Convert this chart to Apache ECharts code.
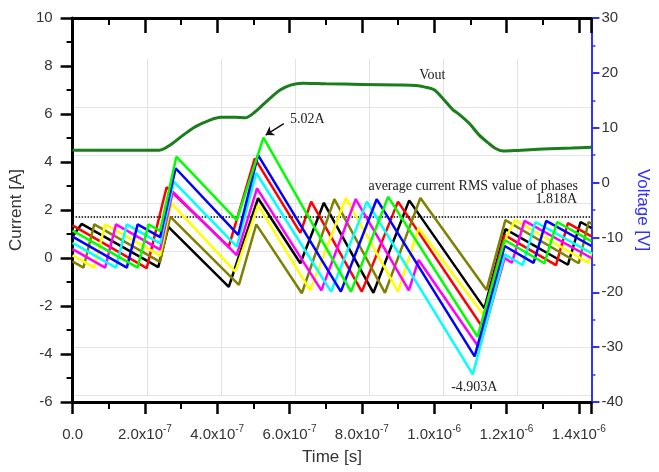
<!DOCTYPE html>
<html>
<head>
<meta charset="utf-8">
<script src="https://cdn.jsdelivr.net/npm/echarts@6/dist/echarts.min.js"></script>
<style>html,body{margin:0;padding:0;background:#fff}#c{width:659px;height:472px}</style>
</head>
<body>
<div id="c"></div>
<script>
// time values are in units of 1e-7 s
const xTickValues   = [0, 2, 4, 6, 8, 10, 12, 14];
const xTickMantissa = ['0.0', '2.0', '4.0', '6.0', '8.0', '1.0', '1.2', '1.4'];
const xTickExponent = ['', '-7', '-7', '-7', '-7', '-6', '-6', '-6'];

// phase currents [t (1e-7 s), I (A)]
const phaseRed     = [[0,1.36],[2.05,-0.42],[2.6,2.95],[4.32,0.47],[5.04,4.15],[6.3,1.05],[6.6,2.35],[8.0,-1.4],[9.0,2.35],[11.3,-2.8],[11.95,0.95],[13.37,-0.3],[13.7,1.45],[14.35,0.9]];
const phaseBlack   = [[0,0.9],[0.25,1.42],[2.37,-0.38],[2.65,1.3],[4.32,-1.2],[5.13,2.49],[6.3,-0.22],[6.95,2.3],[8.32,-1.45],[9.31,2.4],[11.39,-2.1],[11.97,1.2],[13.7,-0.28],[14.05,1.5],[14.35,1.25]];
const phaseOlive   = [[0,-0.14],[0.3,-0.4],[0.6,1.4],[2.42,-0.16],[2.7,1.72],[4.6,-1.12],[5.08,1.4],[6.34,-1.47],[7.24,2.45],[8.64,-1.45],[9.62,2.5],[11.45,-1.33],[11.97,1.58],[14.0,-0.22],[14.27,1.5],[14.35,1.43]];
const phaseYellow  = [[0,0.11],[0.6,-0.4],[0.9,1.4],[2.42,0.1],[2.73,2.29],[4.5,-0.57],[5.13,2.2],[6.57,-1.35],[7.56,2.5],[9.0,-1.4],[9.57,1.25],[11.48,-2.6],[12.0,0.9],[12.24,1.58],[14.27,-0.2],[14.35,0.25]];
const phaseMagenta = [[0,0.37],[0.9,-0.4],[1.2,1.4],[2.42,0.35],[2.77,2.76],[4.54,0.12],[5.1,2.9],[6.88,-1.35],[7.83,2.45],[9.3,-1.35],[9.57,-0.08],[11.25,-3.75],[11.95,0.0],[12.15,-0.2],[12.5,1.55],[14.35,0.0]];
const phaseCyan    = [[0,0.63],[1.2,-0.4],[1.5,1.4],[2.42,0.61],[2.8,3.18],[4.54,0.47],[5.08,3.54],[7.15,-1.4],[8.14,2.35],[11.07,-4.85],[11.95,0.15],[12.45,-0.3],[12.8,1.5],[14.35,0.2]];
const phaseBlue    = [[0,0.89],[1.5,-0.4],[1.8,1.4],[2.42,0.87],[2.85,3.74],[4.58,0.96],[5.13,4.29],[7.42,-1.4],[8.41,2.45],[11.12,-4.1],[11.95,0.5],[12.75,-0.2],[13.1,1.55],[14.35,0.5]];
const phaseGreen   = [[0,1.14],[1.8,-0.4],[2.1,1.4],[2.42,1.13],[2.87,4.22],[4.54,1.58],[5.28,5.02],[7.7,-1.4],[8.73,2.55],[11.2,-3.28],[11.95,0.75],[13.05,-0.22],[13.4,1.5],[14.35,0.7]];

// output voltage [t (1e-7 s), V]
const vout = [[0,5.9],[2.4,5.9],[2.7,6.85],[3.05,8.6],[3.4,10.2],[3.8,11.4],[4.1,11.9],[4.5,11.9],[4.77,11.8],[5.05,12.9],[5.4,15.0],[5.75,16.9],[6.05,17.8],[6.35,18.1],[7.0,18.0],[8.0,17.9],[9.0,17.8],[9.5,17.7],[9.75,17.4],[10.0,16.9],[10.27,15.1],[10.5,13.4],[10.7,12.4],[10.97,10.8],[11.24,8.7],[11.5,7.2],[11.7,6.2],[11.9,5.75],[12.3,5.85],[13.0,6.1],[13.8,6.3],[14.35,6.45]];

const rmsLine = 1.72;
const peakLabel = '5.02A';
const troughLabel = '-4.903A';
const rmsText = 'average current RMS value of phases';
const rmsValueText = '1.818A';

const phases = [
  ['black', phaseBlack, '#000000'],
  ['red', phaseRed, '#ff0000'],
  ['olive', phaseOlive, '#808000'],
  ['yellow', phaseYellow, '#ffff00'],
  ['magenta', phaseMagenta, '#ff00ff'],
  ['cyan', phaseCyan, '#00ffff'],
  ['blue', phaseBlue, '#0000ff'],
  ['green', phaseGreen, '#00ff00']
];

const SANS = 'Liberation Sans, Arial, sans-serif';
const SERIF = 'Liberation Serif, Times New Roman, serif';
const BLUE = '#3030ff';

function textPoint(coord, text, extra) {
  return Object.assign({
    coord: coord, symbol: 'circle', symbolSize: 1,
    itemStyle: {color: 'rgba(0,0,0,0)'},
    label: {show: true, position: 'inside', formatter: text, fontFamily: SERIF, fontSize: 14, color: '#222'}
  }, extra || {});
}

const series = phases.map(function (p, i) {
  return {
    name: p[0], type: 'line', xAxisIndex: 0, yAxisIndex: 0,
    data: p[1], showSymbol: false, symbol: 'none',
    lineStyle: {color: p[2], width: 2.5}, itemStyle: {color: p[2]},
    z: 3 + i, silent: true
  };
});

// dotted RMS line + texts on the black series
series[0].markLine = {
  silent: true, symbol: ['none', 'none'], label: {show: false},
  lineStyle: {type: 'dotted', color: '#000', width: 1.5},
  data: [{yAxis: rmsLine}]
};
series[0].markPoint = {
  silent: true,
  data: [
    textPoint([11.08, 3.0], rmsText),
    textPoint([13.38, 2.46], rmsValueText),
    textPoint([11.11, -5.38], troughLabel),
    textPoint([6.49, 5.79], peakLabel)
  ]
};
// arrow to the 5.02A peak on the green series
series[7].markLine = {
  silent: true, symbol: ['none', 'arrow'], symbolSize: 8, label: {show: false},
  lineStyle: {type: 'solid', color: '#111', width: 1.5},
  data: [[{coord: [5.84, 5.6]}, {coord: [5.34, 5.12]}]]
};

series.push({
  name: 'Vout', type: 'line', xAxisIndex: 0, yAxisIndex: 1,
  data: vout, showSymbol: false, symbol: 'none', smooth: 0.3,
  lineStyle: {color: '#1b7d1b', width: 3}, z: 20, silent: true,
  markPoint: {silent: true, data: [textPoint([9.95, 19.6], 'Vout')]}
});

function xLabel(v) {
  for (let i = 0; i < xTickValues.length; i++) {
    if (Math.abs(v - xTickValues[i]) < 1e-6) {
      return xTickExponent[i] ? '{b|' + xTickMantissa[i] + 'x10}{s|' + xTickExponent[i] + '}' : '{b|' + xTickMantissa[i] + '}';
    }
  }
  return '';
}

const tickStyle = {color: '#000', width: 2.5};
const minorStyle = {color: '#000', width: 2};

const option = {
  animation: false,
  backgroundColor: '#fff',
  grid: [
    {left: 67, right: 61, top: 18, bottom: 70},
    {left: 73, right: 68, top: 59, bottom: 77}
  ],
  xAxis: [
    {
      gridIndex: 0, type: 'value', position: 'bottom', min: 0, max: 14.35, interval: 2,
      axisLine: {show: true, onZero: false, lineStyle: {color: '#000', width: 3}},
      axisTick: {show: true, length: 12, lineStyle: tickStyle},
      minorTick: {show: true, splitNumber: 2, length: 7, lineStyle: minorStyle},
      splitLine: {show: false},
      axisLabel: {
        formatter: xLabel, margin: 22, color: '#333', showMaxLabel: false,
        rich: {
          b: {fontFamily: SANS, fontSize: 15, color: '#333', lineHeight: 18, verticalAlign: 'bottom'},
          s: {fontFamily: SANS, fontSize: 10, color: '#333', lineHeight: 18, verticalAlign: 'top', padding: [0, 0, 10, 0]}
        }
      },
      name: 'Time [s]', nameLocation: 'middle', nameGap: 47,
      nameTextStyle: {fontFamily: SANS, fontSize: 17, color: '#333'}
    },
    {
      gridIndex: 0, type: 'value', position: 'top', min: 0, max: 14.35, interval: 2,
      axisLine: {show: true, onZero: false, lineStyle: {color: '#000', width: 3}},
      axisTick: {show: true, inside: true, length: 15, lineStyle: tickStyle},
      minorTick: {show: true, splitNumber: 2, length: 7, lineStyle: minorStyle},
      splitLine: {show: false}, axisLabel: {show: false}
    },
    {
      gridIndex: 1, type: 'value', min: 0, max: 14, interval: 2,
      axisLine: {show: false, onZero: false}, axisTick: {show: false}, axisLabel: {show: false},
      splitLine: {show: true, showMinLine: false, showMaxLine: false, lineStyle: {color: '#e3e3e3', width: 1}}
    }
  ],
  yAxis: [
    {
      gridIndex: 0, type: 'value', position: 'left', min: -6, max: 10, interval: 2,
      axisLine: {show: true, onZero: false, lineStyle: {color: '#000', width: 3}},
      axisTick: {show: true, length: 12, lineStyle: tickStyle},
      minorTick: {show: true, splitNumber: 2, length: 6, lineStyle: minorStyle},
      splitLine: {show: false},
      axisLabel: {fontFamily: SANS, fontSize: 15, color: '#333', margin: 20},
      name: 'Current [A]', nameLocation: 'middle', nameGap: 35,
      nameTextStyle: {fontFamily: SANS, fontSize: 17, color: '#333'}
    },
    {
      gridIndex: 0, type: 'value', position: 'right', min: -40, max: 30, interval: 10,
      axisLine: {show: true, onZero: false, lineStyle: {color: BLUE, width: 2}},
      axisTick: {show: true, length: 8, lineStyle: {color: BLUE, width: 2}},
      minorTick: {show: true, splitNumber: 2, length: 4, lineStyle: {color: BLUE, width: 1.5}},
      splitLine: {show: false},
      axisLabel: {fontFamily: SANS, fontSize: 15, color: '#333', margin: 10},
      name: 'Voltage [V]', nameLocation: 'middle', nameGap: 38, nameRotate: -90,
      nameTextStyle: {fontFamily: SANS, fontSize: 17, color: BLUE}
    },
    {
      gridIndex: 1, type: 'value', min: -6, max: 8, interval: 2,
      axisLine: {show: false, onZero: false}, axisTick: {show: false}, axisLabel: {show: false},
      splitLine: {show: true, showMinLine: true, showMaxLine: false, lineStyle: {color: '#e3e3e3', width: 1}}
    }
  ],
  series: series
};

const chart = echarts.init(document.getElementById('c'), null, {renderer: 'canvas'});
chart.setOption(option);
</script>
</body>
</html>
